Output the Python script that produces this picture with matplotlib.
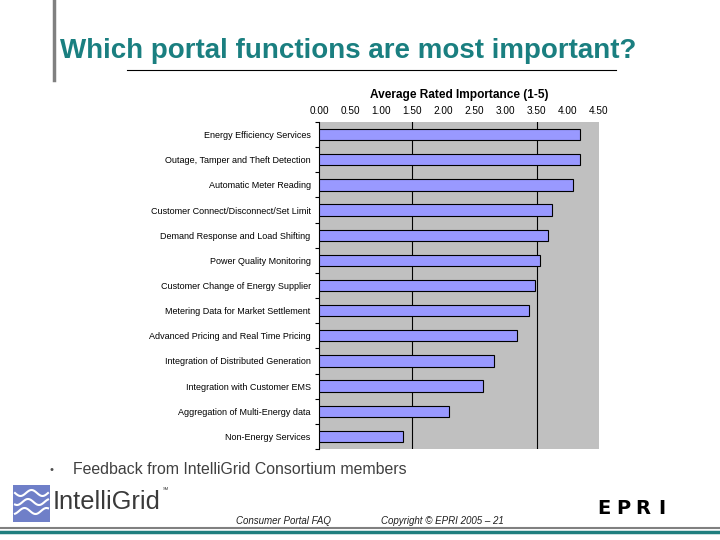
import matplotlib
matplotlib.use("Agg")
import matplotlib.pyplot as plt
import numpy as np
from matplotlib.patches import Rectangle
from matplotlib.lines import Line2D

plt.rcParams['font.family'] = ['Liberation Sans', 'DejaVu Sans']

categories = [
    "Energy Efficiency Services",
    "Outage, Tamper and Theft Detection",
    "Automatic Meter Reading",
    "Customer Connect/Disconnect/Set Limit",
    "Demand Response and Load Shifting",
    "Power Quality Monitoring",
    "Customer Change of Energy Supplier",
    "Metering Data for Market Settlement",
    "Advanced Pricing and Real Time Pricing",
    "Integration of Distributed Generation",
    "Integration with Customer EMS",
    "Aggregation of Multi-Energy data",
    "Non-Energy Services",
]
values = [4.19, 4.19, 4.09, 3.74, 3.68, 3.55, 3.47, 3.37, 3.18, 2.82, 2.63, 2.09, 1.35]
xticks = [0.0, 0.5, 1.0, 1.5, 2.0, 2.5, 3.0, 3.5, 4.0, 4.5]
xtick_labels = ["0.00", "0.50", "1.00", "1.50", "2.00", "2.50", "3.00", "3.50", "4.00", "4.50"]
gridlines = [1.5, 3.5]

W, H = 720, 540
fig = plt.figure(figsize=(7.2, 5.4), dpi=100)
fig.patch.set_facecolor("white")

def fx(px):
    return px / W

def fy(py):
    return 1 - py / H

# chart axes
ax = fig.add_axes([fx(319), fy(449), fx(599) - fx(319), fy(122) - fy(449)])
ax.set_facecolor("#C0C0C0")
y = np.arange(len(categories))
ax.barh(y, values, height=0.45, color="#9999FF", edgecolor="black", linewidth=0.8, zorder=3)
for g in gridlines:
    ax.axvline(g, color="black", linewidth=0.8, zorder=2)
ax.set_xlim(0, 4.5)
ax.set_ylim(len(categories) - 0.5, -0.5)
ax.xaxis.tick_top()
ax.xaxis.set_label_position("top")
ax.set_xticks(xticks)
ax.set_xticklabels(xtick_labels, fontsize=7.2)
ax.tick_params(axis='x', length=0, pad=4)
ax.set_xlabel("Average Rated Importance (1-5)", fontsize=8.6, fontweight="bold", labelpad=6)
ax.set_yticks(y)
ax.set_yticklabels(categories, fontsize=6.5)
ax.tick_params(axis='y', length=0, pad=6)
ax.set_yticks(np.arange(len(categories) + 1) - 0.5, minor=True)
ax.tick_params(axis='y', which='minor', length=3, width=0.8)
for s in ["top", "right", "bottom"]:
    ax.spines[s].set_visible(False)
ax.spines["left"].set_linewidth(0.8)
ax.spines["left"].set_color("black")

# slide decorations
fig.add_artist(Line2D([fx(54), fx(54)], [fy(0), fy(80)], color="#808080", linewidth=2.5))
fig.text(fx(60), fy(51), "Which portal functions are most important?", fontsize=20,
         fontweight="bold", color="#1A7F80", va="center", ha="left")
fig.add_artist(Line2D([fx(127), fx(616)], [fy(70), fy(70)], color="black", linewidth=0.8))

fig.text(fx(50), fy(470), "•", fontsize=8, color="#505050", va="center", ha="left")
fig.text(fx(73), fy(470), "Feedback from IntelliGrid Consortium members", fontsize=11.4,
         color="#404040", va="center", ha="left")

# logo
fig.add_artist(Rectangle((fx(13), fy(522)), fx(50) - fx(13), fy(485) - fy(522),
                         facecolor="#6F7FC8", edgecolor="none"))
tt = np.linspace(0, 1, 50)
for k, yy in enumerate([493, 502, 511]):
    xs = 15 + tt * 33
    ys = yy + 3 * np.sin(tt * 2 * np.pi * 1.5 + k)
    fig.add_artist(Line2D(fx(xs), fy(ys), color="white", linewidth=1.5))
fig.text(fx(53), fy(502), "IntelliGrid", fontsize=18.3, color="#3A3A3A", va="center", ha="left")
fig.text(fx(163), fy(489), "SM", fontsize=3, color="#3A3A3A", va="center", ha="left")

fig.text(fx(236), fy(521), "Consumer Portal FAQ", fontsize=7, style="italic",
         color="#202020", va="center", ha="left")
fig.text(fx(381), fy(521), "Copyright © EPRI 2005 – 21", fontsize=7, style="italic",
         color="#202020", va="center", ha="left")
for letter, px in zip("EPRI", [604, 623, 643, 662]):
    fig.text(fx(px), fy(509), letter, fontsize=14, fontweight="bold", color="black",
             va="center", ha="center", family="DejaVu Sans")

fig.add_artist(Line2D([0, 1], [fy(527.5), fy(527.5)], color="#808080", linewidth=1.5))
fig.add_artist(Line2D([0, 1], [fy(531.5), fy(531.5)], color="#1F7F7F", linewidth=2.5))

fig.savefig("out.png", dpi=100, facecolor="white")
